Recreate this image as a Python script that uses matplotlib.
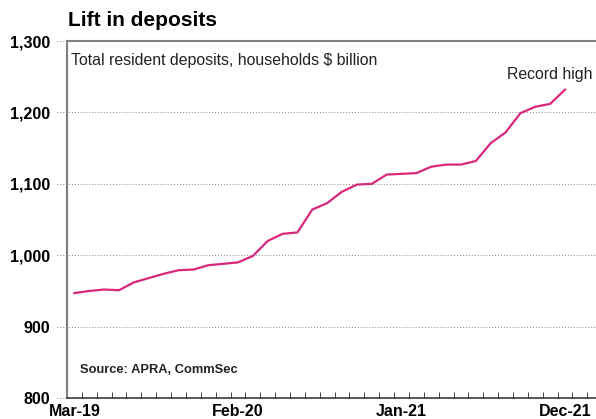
import numpy as np
import pandas as pd
import matplotlib
matplotlib.use("Agg")
import matplotlib.pyplot as plt

plt.rcParams['font.family'] = ['Liberation Sans', 'DejaVu Sans']

# monthly, Mar-19 to Dec-21
months = pd.date_range('2019-03-01', periods=34, freq='MS')
deposits = np.array([947, 950, 952, 951, 962, 968, 974, 979, 980, 986, 988, 990,
                     999, 1020, 1030, 1032, 1064, 1073, 1089, 1099, 1100, 1113,
                     1114, 1115, 1124, 1127, 1127, 1132, 1157, 1172, 1199, 1208,
                     1212, 1232])
tick_idx = [0, 11, 22, 33]
tick_labels = ['Mar-19', 'Feb-20', 'Jan-21', 'Dec-21']
y_ticks = [800, 900, 1000, 1100, 1200, 1300]

fig = plt.figure(figsize=(5.96, 4.19), dpi=100)
ax = fig.add_axes([0.1124, 0.050, 0.888, 0.852])

x = np.arange(len(months))
ax.plot(x, deposits, color='#D9287C', lw=1.6, solid_joinstyle='round')

ax.set_xlim(-0.5, 35.1)
ax.set_ylim(800, 1300)

for v in y_ticks:
    ax.axhline(v, xmin=-0.018, xmax=1, color='#808080', ls=(0, (1, 2)), lw=0.7,
               clip_on=False, zorder=0)

ax.set_yticks(y_ticks)
ax.set_yticklabels([f'{v:,}' for v in y_ticks], fontweight='bold', fontsize=11.5)
ax.tick_params(axis='y', length=0, pad=12)

ax.set_xticks(tick_idx)
ax.set_xticklabels(tick_labels, fontweight='bold', fontsize=11.5)
ax.set_xticks(np.arange(0.5, 35, 1), minor=True)
ax.tick_params(axis='x', which='major', length=0, pad=4)
ax.tick_params(axis='x', which='minor', direction='in', length=4, width=0.7,
               color='#404040')

ax.spines['right'].set_visible(False)
ax.spines['left'].set_color('#7f7f7f')
ax.spines['left'].set_linewidth(1.5)
ax.spines['top'].set_color('#7f7f7f')
ax.spines['top'].set_linewidth(1.5)
ax.spines['bottom'].set_color('#404040')
ax.spines['bottom'].set_linewidth(1.2)

fig.text(0.114, 0.952, 'Lift in deposits', fontsize=15, fontweight='bold',
         va='center', ha='left')
ax.text(0.008, 0.945, 'Total resident deposits, households $ billion',
        transform=ax.transAxes, fontsize=11.4, color='#222222', va='center')
ax.text(0.993, 0.905, 'Record high', transform=ax.transAxes, fontsize=11.4,
        color='#222222', va='center', ha='right')
ax.text(0.025, 0.078, 'Source: APRA, CommSec', transform=ax.transAxes,
        fontsize=9.3, fontweight='bold', color='#222222', va='center')

fig.savefig('out.png', dpi=100)
